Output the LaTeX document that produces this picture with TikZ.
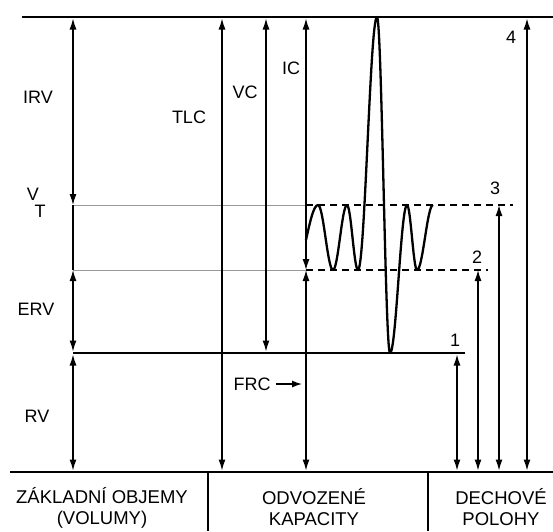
\documentclass[tikz,border=0pt]{standalone}
\usepackage{fontspec}
\setmainfont{Liberation Sans}
\usetikzlibrary{arrows.meta}
\begin{document}
\begin{tikzpicture}[x=1pt,y=-1pt,
  dbl/.style={line width=1.3pt,{Latex[length=11pt,width=7pt]}-{Latex[length=11pt,width=7pt]}},
  sgl/.style={line width=1.3pt,-{Latex[length=10pt,width=7pt]}},
  heavy/.style={line width=2.6pt},
  faint/.style={line width=0.8pt,black!40},
  dashline/.style={line width=1.2pt,dash pattern=on 7pt off 5pt},
  wave/.style={line width=2.3pt,line join=round},
  lbl/.style={font=\fontsize{18}{20}\selectfont,inner sep=0pt},
  cat/.style={font=\fontsize{18.5}{21}\selectfont,inner sep=0pt,align=center}
]
\useasboundingbox (0,0) rectangle (553,531);

% horizontal levels
\coordinate (tl) at (22,17);   \coordinate (tr) at (553,17);
\coordinate (bl) at (10,472);  \coordinate (br) at (553,472);
\coordinate (fl) at (73,353);  \coordinate (fr) at (465,353);
\coordinate (vtl) at (73,205); \coordinate (vtm) at (306,205); \coordinate (vtr) at (513,205);
\coordinate (vbl) at (73,270); \coordinate (vbm) at (306,270); \coordinate (vbr) at (488,270);

\draw[heavy] (tl) -- (tr);
\draw[heavy] (bl) -- (br);
\draw[heavy] (fl) -- (fr);
\draw[faint] (vtl) -- (vtm);
\draw[faint] (vbl) -- (vbm);
\draw[dashline] (vtm) -- (vtr);
\draw[dashline] (vbm) -- (vbr);

% dividers
\coordinate (d1t) at (208,472); \coordinate (d1b) at (208,531);
\coordinate (d2t) at (428,472); \coordinate (d2b) at (428,531);
\draw[line width=1.3pt] (d1t) -- (d1b);
\draw[line width=1.3pt] (d2t) -- (d2b);

% left column
\coordinate (a1) at (73,18.5); \coordinate (a2) at (73,205); \coordinate (a3) at (73,270);
\coordinate (a4) at (73,351.5); \coordinate (a5) at (73,354.5); \coordinate (a6) at (73,470.5);
\draw[dbl] (a1) -- (a2);
\draw[line width=1.3pt] (a2) -- (a3);
\draw[dbl] (a3) -- (a4);
\draw[dbl] (a5) -- (a6);

% TLC, VC, IC, FRC
\coordinate (t1) at (222,18.5); \coordinate (t2) at (222,470.5);
\draw[dbl] (t1) -- (t2);
\coordinate (v1) at (266,18.5); \coordinate (v2) at (266,351.5);
\draw[dbl] (v1) -- (v2);
\coordinate (i1) at (306,18.5); \coordinate (i2) at (306,270); \coordinate (i3) at (306,470.5);
\draw[dbl] (i1) -- (i2);
\draw[dbl] (i2) -- (i3);

% right column
\coordinate (p1a) at (457,354.5); \coordinate (p1b) at (457,470.5);
\coordinate (p2a) at (478,270);   \coordinate (p2b) at (478,470.5);
\coordinate (p3a) at (499,205);   \coordinate (p3b) at (499,470.5);
\coordinate (p4a) at (527,18.5);  \coordinate (p4b) at (527,470.5);
\draw[dbl] (p1a) -- (p1b);
\draw[dbl] (p2a) -- (p2b);
\draw[dbl] (p3a) -- (p3b);
\draw[dbl] (p4a) -- (p4b);

% spirogram wave
\draw[wave] (306,240) sin (318,205) cos (325.5,237.5) sin (333,270)
  cos (340,237.5) sin (347,205) cos (352.5,237.5) sin (358,270)
  cos (367.5,143.5) sin (377,17) cos (383.5,185) sin (390,353)
  cos (398.5,279) sin (407,205) cos (412,237.5) sin (417,270)
  cos (425,237.5) sin (433,205);

% labels
\node[lbl] (irv) at (38,97) {IRV};
\node[lbl] (tlc) at (189,117) {TLC};
\node[lbl] (vc) at (245,92) {VC};
\node[lbl] (ic) at (291,68) {IC};
\node[lbl] (v) at (33,194) {V};
\node[lbl] (t) at (40,211) {T};
\node[lbl] (erv) at (36,309) {ERV};
\node[lbl] (rv) at (37,416) {RV};
\node[lbl] (frc) at (252,384) {FRC};
\coordinate (frcend) at (302,384);
\draw[sgl] ([xshift=5pt]frc.east) -- (frcend);

\node[lbl] (n1) at (455,340) {1};
\node[lbl] (n2) at (477,257) {2};
\node[lbl] (n3) at (495,188) {3};
\node[lbl] (n4) at (511,37) {4};

\node[cat] (c1) at (102,507.5) {ZÁKLADNÍ OBJEMY\\(VOLUMY)};
\node[cat] (c2) at (314,507.5) {ODVOZENÉ\\KAPACITY};
\node[cat] (c3) at (501,507.5) {DECHOVÉ\\POLOHY};
\end{tikzpicture}
\end{document}
